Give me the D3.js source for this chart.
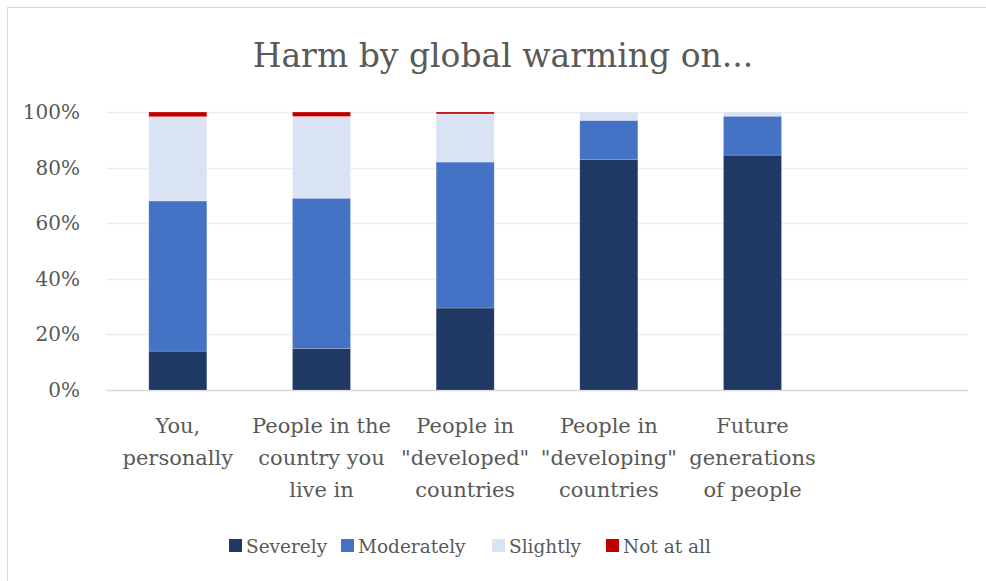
<!DOCTYPE html>
<html>
<head>
<meta charset="utf-8">
<script src="https://cdn.jsdelivr.net/npm/d3@7"></script>
<style>
  body { margin: 0; background: #fff; }
  text { font-family: "DejaVu Serif", serif; fill: #595959; }
</style>
</head>
<body>
<svg id="chart" width="986" height="581"></svg>
<script>
// data (percent of respondents)
var categories = ["you", "country", "developed", "developing", "future", "blank"];
var catLabels = [
    ["You,", "personally"],
    ["People in the", "country you", "live in"],
    ["People in", "\"developed\"", "countries"],
    ["People in", "\"developing\"", "countries"],
    ["Future", "generations", "of people"],
    []
];
var severely   = [14, 15, 29.5, 83, 84.5];
var moderately = [54, 54, 52.5, 14, 14];
var slightly   = [30.3, 29.4, 17.3, 3, 1.5];
var notAtAll   = [1.7, 1.6, 0.7, 0, 0];
var seriesNames = ["Severely", "Moderately", "Slightly", "Not at all"];
var seriesColors = ["#203864", "#4472c4", "#dae3f3", "#c00000"];
var yTicks = [0, 20, 40, 60, 80, 100];

var svg = d3.select("#chart");

// outer chart frame
svg.append("rect")
    .attr("x", 7.5).attr("y", 7.5)
    .attr("width", 1000).attr("height", 600)
    .attr("fill", "none")
    .attr("stroke", "#d9d9d9")
    .attr("stroke-width", 1);

var plotLeft = 106, plotRight = 968, plotTop = 112, plotBottom = 390;

var x = d3.scaleBand()
    .domain(categories)
    .range([plotLeft, plotRight])
    .paddingInner(0.596)
    .paddingOuter(0.298);

var y = d3.scaleLinear()
    .domain([0, 100])
    .range([plotBottom, plotTop]);

// gridlines
svg.append("g")
    .selectAll("line")
    .data(yTicks)
    .enter()
    .append("line")
    .attr("x1", plotLeft)
    .attr("x2", plotRight)
    .attr("y1", function(d){ return Math.round(y(d)) + 0.5; })
    .attr("y2", function(d){ return Math.round(y(d)) + 0.5; })
    .attr("stroke", function(d){ return d == 0 ? "#d9d9d9" : "#e9edf6"; })
    .attr("stroke-width", 1.3);

// y labels
var yAxis = d3.axisLeft(y)
    .tickValues(yTicks)
    .tickSize(0)
    .tickPadding(0)
    .tickFormat(function(d){ return d + "%"; });

var yg = svg.append("g")
    .attr("transform", "translate(80,0)")
    .call(yAxis);
yg.select(".domain").remove();
yg.selectAll("text")
    .attr("font-family", "DejaVu Serif")
    .attr("font-size", 20)
    .attr("fill", "#595959");

// stacked bars
var table = categories.slice(0, 5).map(function(c, i){
    return { cat: c, Severely: severely[i], Moderately: moderately[i],
             Slightly: slightly[i], "Not at all": notAtAll[i] };
});
var stacked = d3.stack().keys(seriesNames)(table);

svg.append("g")
    .selectAll("g")
    .data(stacked)
    .enter()
    .append("g")
    .attr("fill", function(d, i){ return seriesColors[i]; })
    .selectAll("rect")
    .data(function(d){ return d; })
    .enter()
    .append("rect")
    .attr("x", function(d){ return x(d.data.cat); })
    .attr("width", x.bandwidth())
    .attr("y", function(d){ return y(d[1]); })
    .attr("height", function(d){ return y(d[0]) - y(d[1]); })
    .attr("stroke", "rgba(255,255,255,0.35)")
    .attr("stroke-width", 0.6);

// category labels
var xg = svg.append("g");
categories.forEach(function(c, i){
    var t = xg.append("text")
        .attr("text-anchor", "middle")
        .attr("font-size", 21)
        .attr("x", x(c) + x.bandwidth() / 2)
        .attr("y", 433);
    catLabels[i].forEach(function(line, j){
        t.append("tspan")
            .attr("x", x(c) + x.bandwidth() / 2)
            .attr("dy", j == 0 ? 0 : 32)
            .text(line);
    });
});

// title
svg.append("text")
    .attr("x", 503)
    .attr("y", 67)
    .attr("text-anchor", "middle")
    .attr("font-size", 33)
    .text("Harm by global warming on...");

// legend
var legendX = [229, 341, 492, 606];
var lg = svg.append("g");
seriesNames.forEach(function(name, i){
    lg.append("rect")
        .attr("x", legendX[i])
        .attr("y", 539)
        .attr("width", 13)
        .attr("height", 13)
        .attr("fill", seriesColors[i]);
    lg.append("text")
        .attr("x", legendX[i] + 17)
        .attr("y", 553)
        .attr("font-size", 18.5)
        .text(name);
});
</script>
</body>
</html>
